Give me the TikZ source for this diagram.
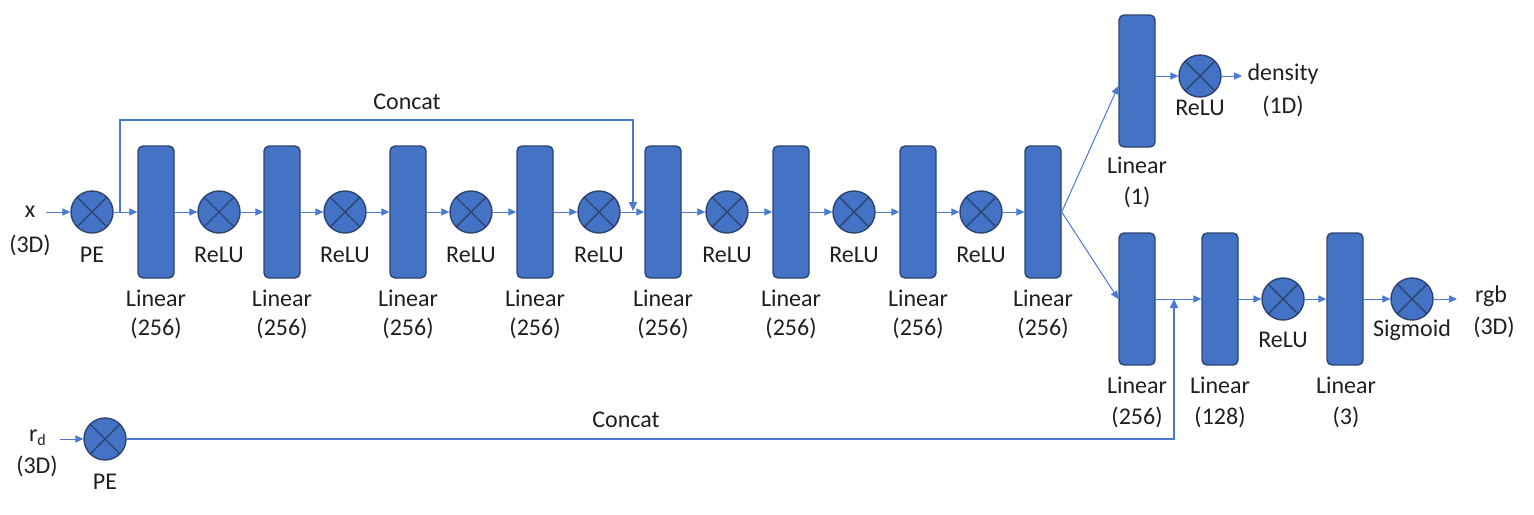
\documentclass[tikz,border=0pt]{standalone}
\usepackage{fontspec}
\setmainfont{Carlito}
\usetikzlibrary{arrows.meta}
\definecolor{fillblue}{HTML}{4472C4}
\definecolor{edgeblue}{HTML}{2B4470}
\definecolor{arrblue}{HTML}{4A7BD0}
\begin{document}
\begin{tikzpicture}[x=0.5pt,y=-0.5pt, font=\fontsize{12}{14}\selectfont,
  lin/.style={draw=edgeblue, fill=fillblue, line width=0.7pt, rounded corners=2.5pt, minimum width=18pt, minimum height=66pt, inner sep=0pt},
  op/.style={circle, draw=edgeblue, fill=fillblue, line width=0.7pt, minimum size=21pt, inner sep=0pt,
    path picture={\draw[edgeblue, line width=0.7pt] (path picture bounding box.north west)--(path picture bounding box.south east) (path picture bounding box.north east)--(path picture bounding box.south west);}},
  arr/.style={draw=arrblue, line width=0.5pt, -{Triangle[length=4pt,width=3.6pt]}},
  cat/.style={draw=arrblue, line width=1pt},
  lbl/.style={text=black!88, inner sep=0pt, align=center}]
\useasboundingbox (0,0) rectangle (1534,514);

% inputs
\node[lbl] (xl) at (30,212) {x};
\node[lbl] (xd) at (30,245) {(3D)};
\coordinate (xs) at (46,212);
\node[op] (pe1) at (92,212) {};
\node[lbl] (pe1l) at (92,255) {PE};

% main trunk
\foreach \n/\x in {1/156,2/282,3/408,4/535,5/663,6/791,7/918,8/1043}{
  \node[lin] (L\n) at (\x,212) {};
  \node[lbl] (L\n a) at (\x,298) {Linear};
  \node[lbl] (L\n b) at (\x,328) {(256)};
}
\foreach \n/\x in {1/219,2/345,3/471,4/599,5/727,6/854,7/981}{
  \node[op] (R\n) at (\x,212) {};
  \node[lbl] (R\n l) at (\x,255) {ReLU};
}
\draw[arr] (xs) -- (pe1);
\draw[arr] (pe1) -- (L1);
\foreach \n [evaluate=\n as \m using int(\n+1)] in {1,...,7}{
  \draw[arr] (L\n) -- (R\n);
  \draw[arr] (R\n) -- (L\m);
}

% top concat
\coordinate (c1) at (120,212);
\coordinate (c2) at (633,211);
\draw[cat, -{Triangle[length=4.5pt,width=4pt]}] (c1) -- (120,120) -| (c2);
\node[lbl] (cat1) at (407,102) {Concat};

% density branch
\node[lin] (Lt) at (1137,81) {};
\node[lbl] (Lta) at (1137,165) {Linear};
\node[lbl] (Ltb) at (1137,197) {(1)};
\node[op] (Rt) at (1200,76) {};
\node[lbl] (Rtl) at (1200,108) {ReLU};
\coordinate (dens) at (1242,76);
\node[lbl] (dl) at (1283,74) {density};
\node[lbl] (dd) at (1283,106) {(1D)};
\draw[arr] (L8.east) -- ([yshift=-2.5pt]Lt.west);
\draw[arr] (Lt.east |- Rt.west) -- (Rt.west);
\draw[arr] (Rt) -- (dens);

% rgb branch
\node[lin] (Lb1) at (1137,299) {};
\node[lbl] (Lb1a) at (1137,385) {Linear};
\node[lbl] (Lb1b) at (1137,417) {(256)};
\node[lin] (Lb2) at (1220,299) {};
\node[lbl] (Lb2a) at (1220,385) {Linear};
\node[lbl] (Lb2b) at (1220,417) {(128)};
\node[op] (Rb) at (1283,299) {};
\node[lbl] (Rbl) at (1283,340) {ReLU};
\node[lin] (Lb3) at (1345,299) {};
\node[lbl] (Lb3a) at (1346,385) {Linear};
\node[lbl] (Lb3b) at (1346,417) {(3)};
\node[op] (Sb) at (1412,299) {};
\node[lbl] (Sbl) at (1412,330) {Sigmoid};
\coordinate (rgbs) at (1457,299);
\node[lbl] (rgbl) at (1491,296) {rgb};
\node[lbl] (rgbd) at (1494,327) {(3D)};
\draw[arr] (L8.east) -- (Lb1.west);
\draw[arr] (Lb1) -- (Lb2);
\draw[arr] (Lb2) -- (Rb);
\draw[arr] (Rb) -- (Lb3);
\draw[arr] (Lb3) -- (Sb);
\draw[arr] (Sb) -- (rgbs);

% direction input
\node[lbl] (rl) at (38,438) {r\textsubscript{d}};
\node[lbl] (rd) at (37,466) {(3D)};
\coordinate (rs) at (60,439);
\node[op] (pe2) at (105,439) {};
\node[lbl] (pe2l) at (105,482) {PE};
\draw[arr] (rs) -- (pe2);
\coordinate (c3) at (1174,299);
\draw[cat, -{Triangle[length=4.5pt,width=4pt]}] (pe2.east) -- (1174,439) -- (c3);
\node[lbl] (cat2) at (626,420) {Concat};
\end{tikzpicture}
\end{document}
